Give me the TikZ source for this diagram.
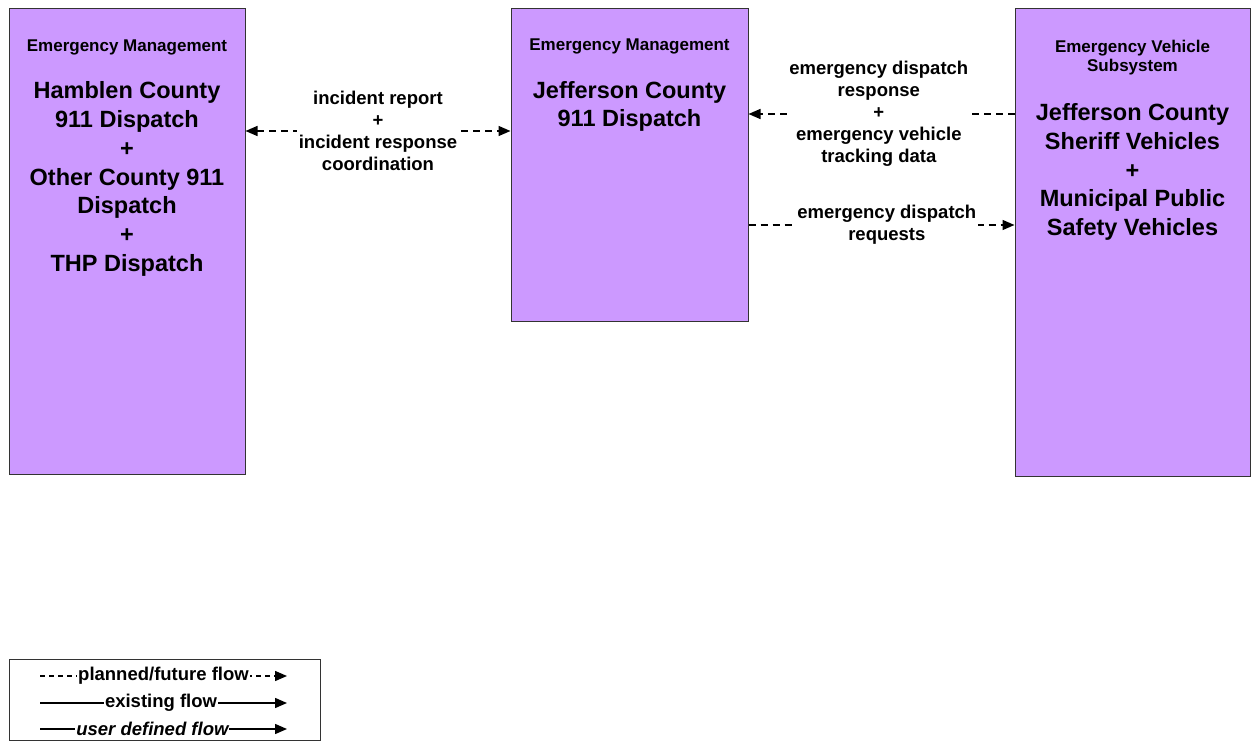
\documentclass[tikz,border=0pt]{standalone}
\usepackage{fontspec}
\setmainfont{Liberation Sans}
\usetikzlibrary{arrows.meta}

\definecolor{boxpurple}{HTML}{CC99FF}

\tikzset{
  box/.style={draw=black!80, fill=boxpurple, line width=1pt, inner sep=0pt},
  boxtitle/.style={font=\bfseries\fontsize{17}{19.5}\selectfont, align=center},
  boxname/.style={font=\bfseries\fontsize{23.5}{28.7}\selectfont, align=center},
  flowlabel/.style={font=\bfseries\fontsize{18.5}{22}\selectfont, align=center, fill=white, inner sep=2pt},
  legendlabel/.style={font=\bfseries\fontsize{18.5}{22}\selectfont, fill=white, inner sep=1pt},
  planned/.style={line width=1.4pt, dash pattern=on 7pt off 5pt},
  legendplanned/.style={line width=1.4pt, dash pattern=on 5pt off 4pt},
  existing/.style={line width=1.5pt},
  tip/.style={-{Triangle[length=12pt,width=10pt]}},
  bothtips/.style={{Triangle[length=12pt,width=10pt]}-{Triangle[length=12pt,width=10pt]}},
}

\begin{document}
\begin{tikzpicture}[x=1pt,y=-1pt]
\useasboundingbox (0,0) rectangle (1251,749);

% the three centres
\node[box, minimum width=236pt, minimum height=465pt] (hamblen) at (127,241.5) {};
\node[box, minimum width=237pt, minimum height=312pt] (jeff) at (629.5,165) {};
\node[box, minimum width=235pt, minimum height=467pt] (sheriff) at (1132.5,242.5) {};

\node[boxtitle] (hamblentitle) at (127,47) {Emergency Management};
\node[boxname] (hamblenname) at (127,179) {Hamblen County\\911 Dispatch\\+\\Other County 911\\Dispatch\\+\\THP Dispatch};

\node[boxtitle] (jefftitle) at (629.5,46) {Emergency Management};
\node[boxname] (jeffname) at (629.5,106.5) {Jefferson County\\911 Dispatch};

\node[boxtitle] (sherifftitle) at (1132.5,57.5) {Emergency Vehicle\\Subsystem};
\node[boxname] (sheriffname) at (1132.5,172) {Jefferson County\\Sheriff Vehicles\\+\\Municipal Public\\Safety Vehicles};

% flows
\coordinate (incident) at (378,131);
\coordinate (response) at (881,114);
\coordinate (requests) at (881,225);

\draw[planned, bothtips] (hamblen.east |- incident) -- (jeff.west |- incident)
  node[flowlabel, midway] {incident report\\+\\incident response\\coordination};
\draw[planned, tip] (sheriff.west |- response) -- (jeff.east |- response)
  node[flowlabel, pos=0.51] {emergency dispatch\\response\\+\\emergency vehicle\\tracking data};
\draw[planned, tip] (jeff.east |- requests) -- (sheriff.west |- requests)
  node[flowlabel, pos=0.52] {emergency dispatch\\requests};

% legend
\node[draw=black!80, line width=1pt, minimum width=311pt, minimum height=81pt] (legend) at (164.5,699.5) {};
\coordinate (plannedA) at (40,676);
\coordinate (plannedB) at (287,676);
\coordinate (existingA) at (40,703);
\coordinate (existingB) at (287,703);
\coordinate (userA) at (40,729);
\coordinate (userB) at (287,729);
\draw[legendplanned, tip] (plannedA) -- (plannedB) node[legendlabel, pos=0.5] {planned/future flow};
\draw[existing, tip] (existingA) -- (existingB) node[legendlabel, pos=0.49] {existing flow};
\draw[existing, tip] (userA) -- (userB) node[legendlabel, pos=0.455] {\itshape user defined flow};
\end{tikzpicture}
\end{document}
